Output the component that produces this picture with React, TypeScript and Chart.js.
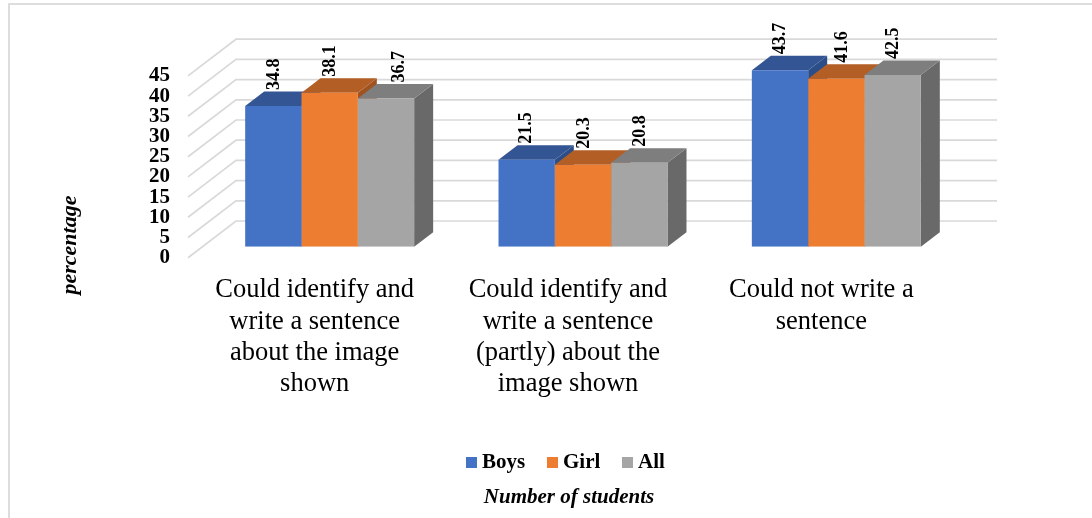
import { useEffect, useRef } from "react";
import { Chart, registerables } from "chart.js";

Chart.register(...registerables);

const categories = [
  ["Could identify and", "write a sentence", "about the image", "shown"],
  ["Could identify and", "write a sentence", "(partly) about the", "image shown"],
  ["Could not write a", "sentence"],
];
const boys = [34.8, 21.5, 43.7];
const girl = [38.1, 20.3, 41.6];
const all = [36.7, 20.8, 42.5];
const yMax = 45;
const yStep = 5;

const SERIF = "'Liberation Serif', serif";
const DEPTH_X = 19;
const DEPTH_Y = 14.5;
const GRID = "#d9d9d9";

// Darker shades for the top and right faces of each column.
const shades = [
  { front: "#4472C4", top: "#335593", side: "#2C4E88" },
  { front: "#ED7D31", top: "#B35E25", side: "#9F5320" },
  { front: "#A5A5A5", top: "#7E7E7E", side: "#696969" },
];

// Horizontal nudges of individual value labels [series][category].
const labelShift = [
  [1, 0, 0],
  [1, 1, 6],
  [13, 1, 1],
];

const wall = {
  id: "wall",
  beforeDatasetsDraw(chart: any) {
    const { ctx, chartArea, scales } = chart;
    ctx.save();
    ctx.strokeStyle = GRID;
    ctx.lineWidth = 1.7;
    for (let v = 0; v <= yMax; v += yStep) {
      const y = scales.y.getPixelForValue(v);
      ctx.beginPath();
      ctx.moveTo(chartArea.left - 15, y + 11);
      ctx.lineTo(chartArea.left + 33, y - 25.7);
      ctx.lineTo(chartArea.right + 34, y - 25.7);
      ctx.stroke();
    }
    ctx.restore();
  },
};

// Top and side faces go under the fronts, painted left to right in each group.
const columnFaces = {
  id: "columnFaces",
  beforeDatasetsDraw(chart: any) {
    const { ctx } = chart;
    const poly = (pts: number[][], fill: string) => {
      ctx.fillStyle = fill;
      ctx.beginPath();
      pts.forEach(([x, y], i) => (i ? ctx.lineTo(x, y) : ctx.moveTo(x, y)));
      ctx.closePath();
      ctx.fill();
    };
    categories.forEach((_, c) => {
      chart.data.datasets.forEach((_d: any, s: number) => {
        const bar = chart.getDatasetMeta(s).data[c];
        const l = bar.x - bar.width / 2;
        const r = bar.x + bar.width / 2;
        const t = bar.y;
        const b = bar.base;
        poly(
          [[r, t], [r + DEPTH_X, t - DEPTH_Y], [r + DEPTH_X, b - DEPTH_Y], [r, b]],
          shades[s].side
        );
        poly(
          [[l, t], [r, t], [r + DEPTH_X, t - DEPTH_Y], [l + DEPTH_X, t - DEPTH_Y]],
          shades[s].top
        );
      });
    });
  },
};

const annotations = {
  id: "annotations",
  afterDraw(chart: any) {
    const { ctx } = chart;
    ctx.save();
    ctx.fillStyle = "#000";

    // Value labels, rotated to read upwards above each column.
    ctx.font = `bold 18px ${SERIF}`;
    ctx.textAlign = "left";
    ctx.textBaseline = "middle";
    chart.data.datasets.forEach((ds: any, s: number) => {
      chart.getDatasetMeta(s).data.forEach((bar: any, c: number) => {
        ctx.save();
        ctx.translate(bar.x + labelShift[s][c], bar.y - 16);
        ctx.rotate(-Math.PI / 2);
        ctx.fillText(ds.data[c].toFixed(1), 0, 0);
        ctx.restore();
      });
    });

    // Legend row.
    const swatchX = [466, 547, 622];
    ctx.font = `bold 21px ${SERIF}`;
    chart.data.datasets.forEach((ds: any, s: number) => {
      ctx.fillStyle = ds.backgroundColor;
      ctx.fillRect(swatchX[s], 457, 11, 11);
      ctx.fillStyle = "#000";
      ctx.fillText(ds.label, swatchX[s] + 16, 463);
    });

    // Axis captions.
    ctx.font = `italic bold 21px ${SERIF}`;
    ctx.textAlign = "center";
    ctx.fillText("Number of students", 569, 498);
    ctx.save();
    ctx.translate(70, 245);
    ctx.rotate(-Math.PI / 2);
    ctx.font = `italic bold 22px ${SERIF}`;
    ctx.fillText("percentage", 0, 0);
    ctx.restore();
    ctx.restore();
  },
};

export default function App() {
  const ref = useRef<HTMLCanvasElement>(null);

  useEffect(() => {
    const chart = new Chart(ref.current!, {
      type: "bar",
      data: {
        labels: categories,
        datasets: [
          { label: "Boys", data: boys, backgroundColor: shades[0].front },
          { label: "Girl", data: girl, backgroundColor: shades[1].front },
          { label: "All", data: all, backgroundColor: shades[2].front },
        ],
      },
      options: {
        responsive: false,
        animation: false,
        layout: { padding: { top: 64.9, right: 129, bottom: 0, left: 0 } },
        datasets: { bar: { barPercentage: 1, categoryPercentage: 0.667, borderWidth: 0 } },
        plugins: { legend: { display: false }, tooltip: { enabled: false } },
        scales: {
          x: {
            grid: { display: false },
            border: { display: false },
            afterFit(scale: any) {
              scale.height = 271.3;
            },
            ticks: {
              autoSkip: false,
              maxRotation: 0,
              minRotation: 0,
              padding: 20,
              labelOffset: -15,
              color: "#000",
              font: { family: SERIF, size: 26.5, lineHeight: 1.18 },
            },
          },
          y: {
            min: 0,
            max: yMax,
            grid: { display: false },
            border: { display: false },
            afterFit(scale: any) {
              scale.width = 203;
            },
            ticks: {
              autoSkip: false,
              stepSize: yStep,
              padding: 25,
              labelOffset: 11,
              color: "#000",
              font: { family: SERIF, size: 21, weight: "bold" },
            },
          },
        },
      },
      plugins: [wall, columnFaces, annotations],
    } as any);
    return () => chart.destroy();
  }, []);

  return (
    <div style={{ position: "fixed", left: 0, top: 0, width: 1092, height: 518, overflow: "hidden", background: "#fff" }}>
      <div
        style={{
          position: "absolute",
          left: 8,
          top: 3,
          width: 1100,
          height: 530,
          border: "2px solid #dddddd",
        }}
      />
      <canvas ref={ref} width={1092} height={518} style={{ position: "absolute", left: 0, top: 0 }} />
    </div>
  );
}
